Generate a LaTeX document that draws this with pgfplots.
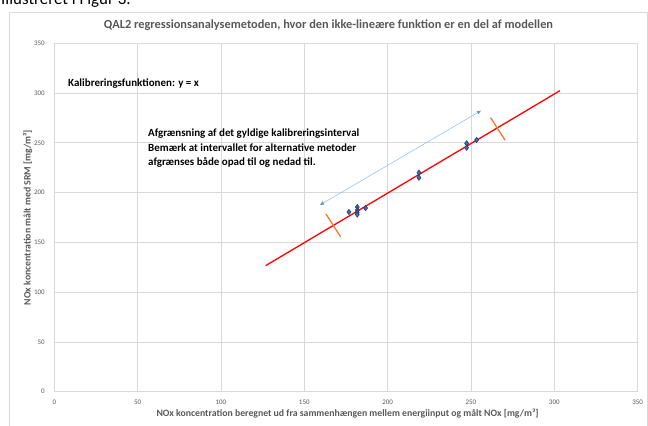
\documentclass[border=0pt]{standalone}
\usepackage{fontspec}
\setmainfont{Carlito}
\usepackage{pgfplots}
\pgfplotsset{compat=1.18}
\usetikzlibrary{arrows.meta}
\definecolor{gridc}{HTML}{D9D9D9}
\definecolor{txt}{HTML}{595959}
\definecolor{ptfill}{HTML}{4472C4}
\definecolor{ptdraw}{HTML}{1F3864}
\definecolor{orng}{HTML}{ED7D31}
\definecolor{lblue}{HTML}{9DC3E6}
\definecolor{mblue}{HTML}{5B9BD5}
\begin{document}
\begin{tikzpicture}[x=1bp,y=1bp]
\useasboundingbox (0,0) rectangle (648,425);
\clip (0,0) rectangle (648,425);
\fill[white] (0,0) rectangle (648,425);
\node[anchor=base west, font=\fontsize{17}{20}\selectfont, inner sep=0] at (1,420) {Illustreret i Figur 3.};
\draw[gridc, line width=0.75bp] (9,413) rectangle (647.5,-20);
\begin{axis}[
  at={(54.3bp,33.3bp)}, anchor=south west,
  scale only axis, width=583.3bp, height=348.4bp,
  xmin=0, xmax=350, ymin=0, ymax=350,
  xtick={0,50,...,350}, ytick={0,50,...,350},
  grid=major, major grid style={gridc, line width=0.75bp},
  axis line style={draw=gridc, line width=0.75bp},
  tick style={draw=none},
  ticklabel style={font=\fontsize{7}{8}\selectfont, text=txt},
  /pgf/number format/assume math mode=true,
  yticklabel style={xshift=-6bp},
  xticklabel style={yshift=-4.5bp},
  clip=false,
]
\addplot[red, line width=1.3bp] coordinates {(126.8,126.6) (303.4,302.4)};
\addplot[orng, line width=1.3bp] coordinates {(163.0,178.5) (171.8,155.7)};
\addplot[orng, line width=1.3bp] coordinates {(261.8,275.3) (270.5,252.6)};
\addplot[lblue, line width=0.6bp, {Triangle[length=4bp,width=3.5bp,color=mblue]}-{Triangle[length=4bp,width=3.5bp,color=mblue]}] coordinates {(159.4,187.6) (256,282.3)};
\addplot[only marks, mark=diamond*, mark size=2.6bp, mark options={fill=ptfill, draw=ptdraw, line width=0.6bp}] coordinates {
(176.8,180.5) (181.8,185.5) (181.8,182.5) (181.8,180.0) (181.8,178.0) (186.8,184.5)
(218.8,220.0) (218.8,215.0) (247.4,249.5) (247.4,245.1) (253.4,252.9)};
\end{axis}
\node[font=\fontsize{12.4}{14}\selectfont\bfseries, text=txt] at (328.5,400) {QAL2 regressionsanalysemetoden, hvor den ikke-lineære funktion er en del af modellen};
\node[font=\fontsize{9.8}{11}\selectfont\bfseries, text=txt, rotate=90] at (27.7,207.5) {NOx koncentration målt med SRM [mg/m³]};
\node[font=\fontsize{9.8}{11}\selectfont\bfseries, text=txt] at (347.5,11) {NOx koncentration beregnet ud fra sammenhængen mellem energiinput og målt NOx [mg/m³]};
\node[anchor=west, inner sep=0, font=\fontsize{11}{12}\selectfont\bfseries] at (68,341) {Kalibreringsfunktionen: y = x};
\node[anchor=west, inner sep=0, font=\fontsize{11}{12}\selectfont\bfseries] at (148,291.7) {Afgrænsning af det gyldige kalibreringsinterval};
\node[anchor=west, inner sep=0, font=\fontsize{11}{12}\selectfont\bfseries] at (148,277.3) {Bemærk at intervallet for alternative metoder};
\node[anchor=west, inner sep=0, font=\fontsize{11}{12}\selectfont\bfseries] at (148,262.7) {afgrænses både opad til og nedad til.};
\end{tikzpicture}
\end{document}
